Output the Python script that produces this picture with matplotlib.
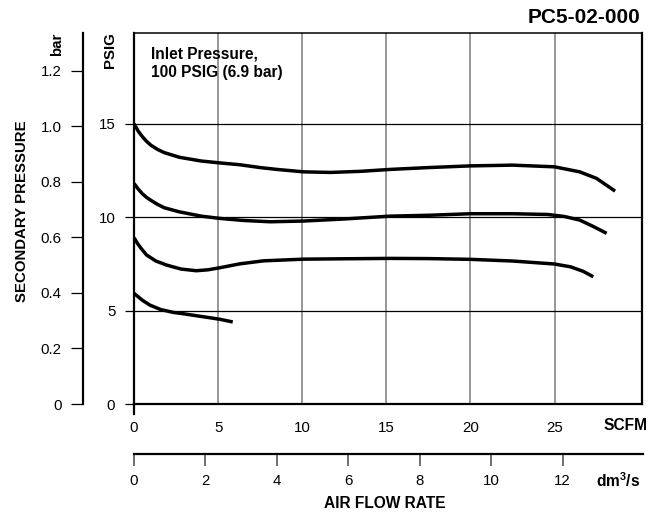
import matplotlib
matplotlib.use("Agg")
import matplotlib.pyplot as plt

plt.rcParams['font.family'] = ['Liberation Sans', 'DejaVu Sans']
plt.rcParams['mathtext.fontset'] = 'custom'
plt.rcParams['mathtext.rm'] = 'Liberation Sans'
plt.rcParams['mathtext.bf'] = 'Liberation Sans:bold'

# ---- data (SCFM vs PSIG) ----
x_15 = [0, 0.25, 0.5, 0.75, 1.0, 1.4, 1.8, 2.7, 4.0, 5.1, 6.3, 7.5, 8.5, 10.1, 11.7, 13.5, 15.2, 17.5, 20.0, 22.5, 25.0, 26.5, 27.5, 28.6]
y_15 = [15.0, 14.6, 14.3, 14.05, 13.85, 13.62, 13.45, 13.2, 13.0, 12.9, 12.8, 12.65, 12.55, 12.42, 12.39, 12.45, 12.55, 12.65, 12.74, 12.78, 12.69, 12.42, 12.07, 11.39]

x_12 = [0, 0.25, 0.5, 0.75, 1.0, 1.4, 1.8, 2.7, 4.0, 5.1, 6.5, 8.1, 10.1, 12.5, 15.2, 17.6, 20.0, 22.5, 24.6, 25.6, 26.5, 27.3, 28.1]
y_12 = [11.8, 11.5, 11.25, 11.05, 10.9, 10.68, 10.5, 10.28, 10.05, 9.93, 9.82, 9.75, 9.79, 9.9, 10.05, 10.1, 10.18, 10.18, 10.14, 10.03, 9.84, 9.5, 9.13]

x_9 = [0, 0.2, 0.4, 0.75, 1.3, 1.95, 2.8, 3.7, 4.4, 5.1, 6.3, 7.7, 10.1, 12.5, 15.2, 17.5, 20.0, 22.5, 25.0, 25.95, 26.7, 27.3]
y_9 = [8.9, 8.6, 8.35, 7.97, 7.65, 7.43, 7.22, 7.13, 7.18, 7.29, 7.5, 7.66, 7.75, 7.77, 7.79, 7.78, 7.74, 7.65, 7.49, 7.34, 7.1, 6.81]

x_6 = [0, 0.5, 0.95, 1.6, 2.34, 3.0, 3.73, 4.4, 5.12, 5.87]
y_6 = [5.92, 5.55, 5.29, 5.05, 4.9, 4.82, 4.72, 4.63, 4.53, 4.39]

scfm_ticks = [0, 5, 10, 15, 20, 25]
psig_ticks = [0, 5, 10, 15]
bar_ticks = [0, 0.2, 0.4, 0.6, 0.8, 1.0, 1.2]
bar_labels = ['0', '0.2', '0.4', '0.6', '0.8', '1.0', '1.2']
dm3_ticks = [0, 2, 4, 6, 8, 10, 12]
SCFM_TO_DM3S = 0.4719

W, H = 662, 516
fig = plt.figure(figsize=(W / 100, H / 100), dpi=100)

L, R, T, B = 134, 642, 33, 404
ax = fig.add_axes([L / W, 1 - B / H, (R - L) / W, (B - T) / H])
xmax, ymax = 30.2, 19.85
ax.set_xlim(0, xmax)
ax.set_ylim(0, ymax)

# grid
for xv in scfm_ticks[1:]:
    ax.axvline(xv, color='#7a7a7a', lw=1.1, zorder=1)
for yv in psig_ticks[1:]:
    ax.axhline(yv, color='black', lw=0.9, zorder=1)

for xs, ys in [(x_15, y_15), (x_12, y_12), (x_9, y_9), (x_6, y_6)]:
    ax.plot(xs, ys, color='black', lw=2.5, solid_capstyle='butt',
            solid_joinstyle='round', zorder=3)

for s in ['left', 'bottom', 'right']:
    ax.spines[s].set_linewidth(1.6)
ax.spines['top'].set_linewidth(1.1)

ax.set_xticks(scfm_ticks)
ax.set_yticks(psig_ticks)
ax.tick_params(axis='x', length=0, pad=12, labelsize=10.8)
ax.tick_params(axis='y', length=6.5, width=0.9, pad=7, labelsize=10.8, direction='out')
# extension of left spine below origin
ax.plot([0, 0], [0, -10 / (B - T)], transform=ax.transAxes, color='black', lw=1.6, clip_on=False)

# bar axis
bx = 83
axb = fig.add_axes([bx / W, 1 - B / H, 0.001, (B - T) / H])
axb.set_ylim(0, 1.335)
axb.set_xlim(0, 1)
for s in ['top', 'right', 'bottom']:
    axb.spines[s].set_visible(False)
axb.spines['left'].set_linewidth(1.6)
axb.set_xticks([])
axb.set_yticks(bar_ticks)
axb.set_yticklabels(bar_labels)
axb.tick_params(axis='y', length=8.5, width=0.9, pad=7, labelsize=10.8)
axb.patch.set_visible(False)

# dm3/s axis
yb = 454
axd = fig.add_axes([L / W, 1 - yb / H, (643 - L) / W, 0.001])
axd.set_xlim(0, xmax * SCFM_TO_DM3S)
for s in ['top', 'right', 'left']:
    axd.spines[s].set_visible(False)
axd.spines['bottom'].set_linewidth(1.6)
axd.set_yticks([])
axd.set_xticks(dm3_ticks)
axd.tick_params(axis='x', length=8.5, width=1.2, color='#555555', pad=6, labelsize=10.8)
axd.patch.set_visible(False)

# texts
fig.text(640 / W, 1 - 17 / H, 'PC5-02-000', ha='right', va='center', fontsize=15, fontweight='bold')
fig.text(151 / W, 1 - 47 / H, 'Inlet Pressure,\n100 PSIG (6.9 bar)', ha='left', va='top',
         fontsize=11.2, fontweight='bold', linespacing=1.22)
fig.text(603 / W, 1 - 426 / H, 'SCFM', ha='left', va='center', fontsize=11.2, fontweight='bold')
fig.text(596 / W, 1 - 481 / H, r'dm$^{\mathbf{3}}$/s', ha='left', va='center', fontsize=11.2, fontweight='bold')
fig.text(385 / W, 1 - 504 / H, 'AIR FLOW RATE', ha='center', va='center', fontsize=11.2, fontweight='bold')
fig.text(22 / W, 1 - 211 / H, 'SECONDARY PRESSURE', ha='center', va='center', rotation=90,
         fontsize=10.8, fontweight='bold')
fig.text(57 / W, 1 - 44 / H, 'bar', ha='center', va='center', rotation=90, fontsize=10.8, fontweight='bold')
fig.text(110 / W, 1 - 50 / H, 'PSIG', ha='center', va='center', rotation=90, fontsize=10.8, fontweight='bold')

fig.savefig('out.png', dpi=100)
